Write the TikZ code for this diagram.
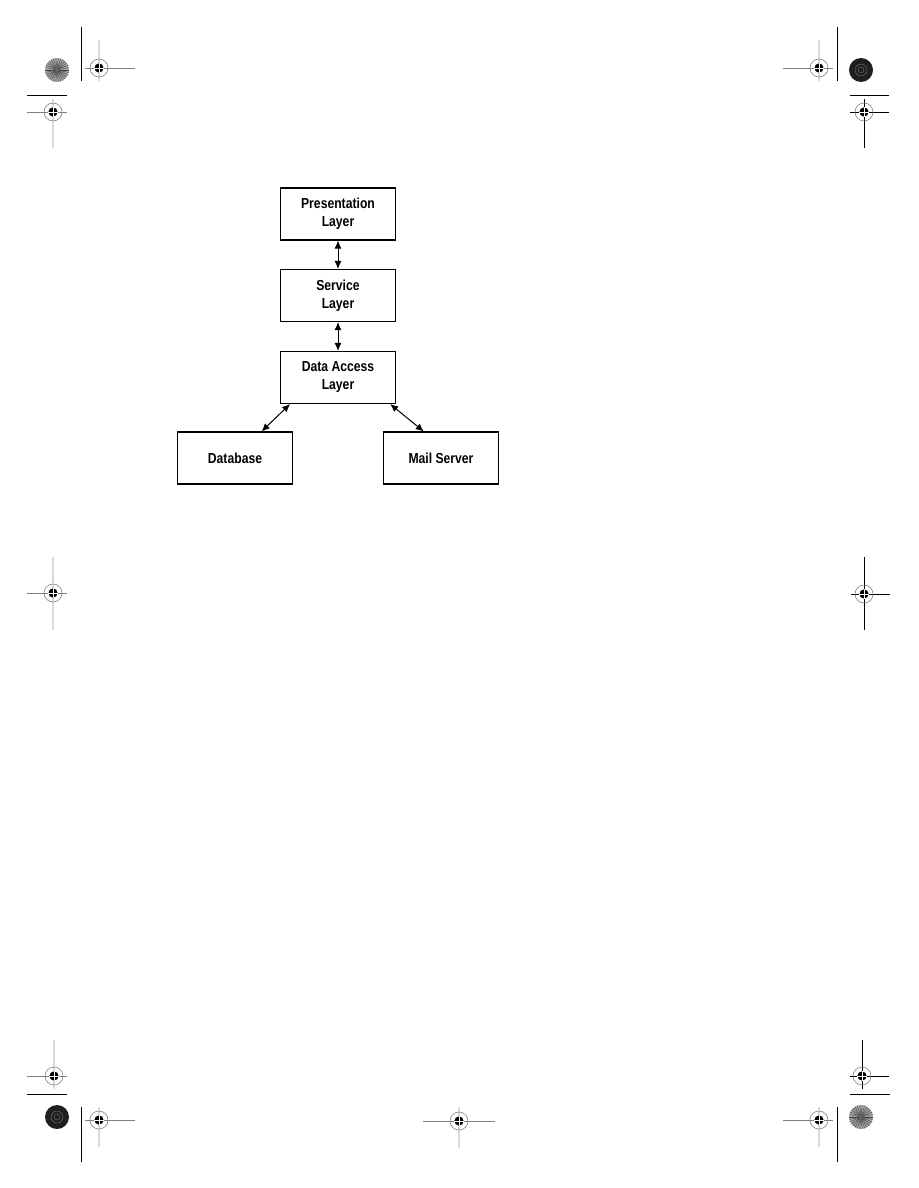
\documentclass[tikz,border=0pt]{standalone}
\usepackage{fontspec}
\newfontfamily\boxfont[FakeStretch=0.84]{Liberation Sans}
\usetikzlibrary{arrows.meta}

\tikzset{
    regtarget/.pic={
            \draw[black!55, line width=0.5pt] (0,0) circle (9);
            \fill[black] (0,0) circle (4.6);
            \draw[white, line width=0.9pt] (-5,0) -- (5,0) (0,-5) -- (0,5);
        }
}

\begin{document}
\begin{tikzpicture}[
                x=1pt, y=-1pt,
                layer/.style={
                        draw=black,
                        line width=1.1pt,
                        minimum width=115pt,
                        minimum height=52pt,
                        align=center,
                        font=\boxfont\bfseries\fontsize{14.5}{18}\selectfont
                    },
                link/.style={
                        {Latex[length=8pt,width=7pt]}-{Latex[length=8pt,width=7pt]},
                        line width=1pt
                    },
                cropline/.style={black, line width=0.8pt},
                hline/.style={black!50, line width=0.8pt},
                vline/.style={black!15, line width=1.6pt},
                darkline/.style={black, line width=0.9pt}
            ]

            \useasboundingbox[fill=white] (0,0) rectangle (918,1188);

            % Capas
            \node[layer] (pres) at (338,214) {Presentation\\Layer};
            \node[layer] (serv) at (338,295.5) {Service\\Layer};
            \node[layer] (dal)  at (338,377.5) {Data Access\\Layer};
            \node[layer] (db)   at (235,458) {Database};
            \node[layer] (mail) at (441,458) {Mail Server};

            % Conexiones
            \draw[link] (pres) -- (serv);
            \draw[link] (serv) -- (dal);
            \draw[link] (dal.209) -- (db.45);
            \draw[link] (dal.333) -- (mail.123);

            % Marcas de corte
            \draw[cropline] (81,27) -- (81,81);
            \draw[cropline] (837,27) -- (837,81);
            \draw[cropline] (81,1107) -- (81,1162);
            \draw[cropline] (837,1107) -- (837,1162);
            \draw[cropline] (27,95) -- (67,95);
            \draw[cropline] (850,95) -- (889,95);
            \draw[cropline] (27,1094) -- (67,1094);
            \draw[cropline] (850,1094) -- (890,1094);

            % Miras de registro (grises)
            \foreach \cx/\cy/\ha/\hb/\va/\vb in {
                    99/68/85/135/40/81,
                    53/112/27/67/99/148,
                    819/68/783/833/40/81,
                    53/593/27/67/557/630,
                    54/1076/27/67/1040/1089,
                    99/1120/85/135/1107/1147,
                    459/1121/423/495/1107/1148,
                    819/1120/783/833/1107/1147}{
                    \draw[vline] (\cx,\va) -- (\cx,\vb);
                    \draw[hline] (\ha,\cy) -- (\hb,\cy);
                    \pic at (\cx,\cy) {regtarget};
                }

            % Miras de registro (negras)
            \foreach \cx/\cy/\ha/\hb/\va/\vb in {
                    864/112/850/889/99/148,
                    864/594/851/890/557/630,
                    862/1076/850/889/1040/1089}{
                    \draw[darkline] (\cx,\va) -- (\cx,\vb);
                    \draw[darkline] (\ha,\cy) -- (\hb,\cy);
                    \pic at (\cx,\cy) {regtarget};
                }

            % Discos de color
            \foreach \cx/\cy in {57/70, 861/1117}{
                    \fill[black!35] (\cx,\cy) circle (12);
                    \foreach \a in {0,12,...,348}
                    \draw[black!75, line width=0.4pt] (\cx,\cy) -- ++(\a:12);
                    \fill[black!60] (\cx,\cy) circle (2);
                }
            \foreach \cx/\cy in {861/70, 57/1117}{
                    \fill[black!88] (\cx,\cy) circle (12);
                    \draw[black!55, line width=0.4pt] (\cx,\cy) circle (6);
                    \draw[black!55, line width=0.4pt] (\cx,\cy) circle (3);
                }

        \end{tikzpicture}
\end{document}
